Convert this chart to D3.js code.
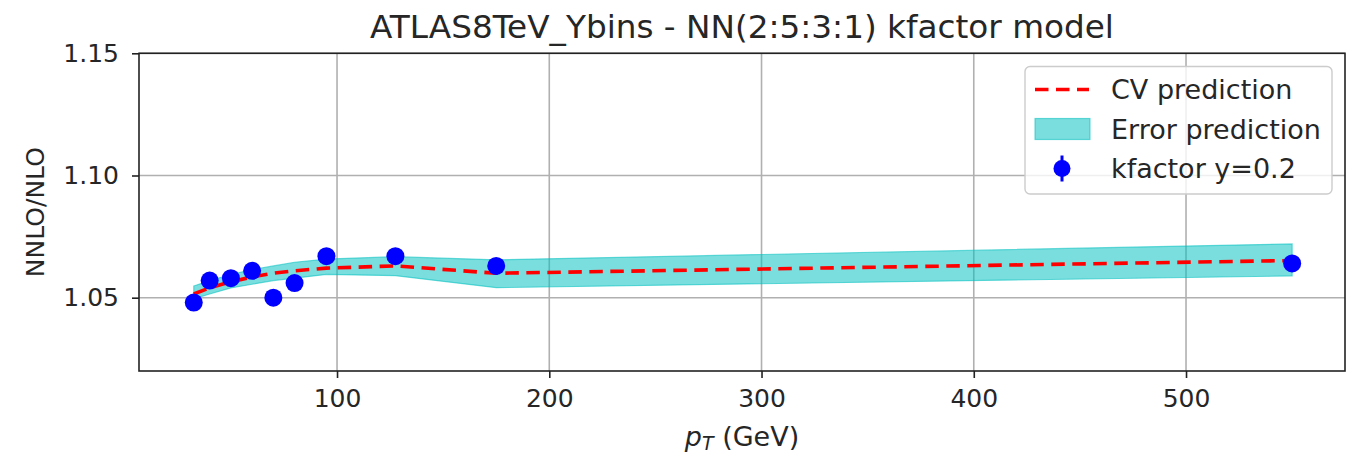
<!DOCTYPE html>
<html>
<head>
<meta charset="utf-8">
<script src="https://cdn.jsdelivr.net/npm/d3@7"></script>
<style>
  html, body { margin: 0; padding: 0; background: #fff; }
  svg { display: block; font-family: "DejaVu Sans", sans-serif; }
</style>
</head>
<body>
<svg id="chart" width="1353" height="456"></svg>
<script>
// pT bin centres (GeV)
const ptBins = [32.5, 40, 50, 60, 70, 80, 95, 127.5, 175, 550];
// measured k-factor NNLO/NLO at y=0.2
const kfactor = [1.048, 1.057, 1.058, 1.061, 1.050, 1.056, 1.067, 1.067, 1.063, 1.064];
// network central-value prediction
const cvPrediction = [1.0515, 1.054, 1.0565, 1.0585, 1.060, 1.061, 1.0621, 1.063, 1.060, 1.0652];
// prediction uncertainty band
const errUpper = [1.0548, 1.057, 1.0595, 1.0615, 1.063, 1.0645, 1.0658, 1.0668, 1.0655, 1.0720];
const errLower = [1.0495, 1.0515, 1.054, 1.0555, 1.057, 1.058, 1.0595, 1.059, 1.0541, 1.0589];

const xTicks = [100, 200, 300, 400, 500];
const yTicks = [1.05, 1.10, 1.15];
const xDomain = [6.7, 574.9];
const yDomain = [1.02, 1.15];

const titleText = "ATLAS8TeV_Ybins - NN(2:5:3:1) kfactor model";
const legendLabels = ["CV prediction", "Error prediction", "kfactor y=0.2"];

const svg = d3.select("#chart");
const plot = { left: 139, right: 1345, top: 53.3, bottom: 371 };

const x = d3.scaleLinear().domain(xDomain).range([plot.left, plot.right]);
const y = d3.scaleLinear().domain(yDomain).range([plot.bottom, plot.top]);

const FONT = 25;
const LEGEND_FONT = 27;
const bandColor = "#00bfbf";

// grid
const grid = svg.append("g").attr("stroke", "#b0b0b0").attr("stroke-width", 1.6);
xTicks.forEach(t => grid.append("line")
  .attr("x1", x(t)).attr("x2", x(t)).attr("y1", plot.top).attr("y2", plot.bottom));
yTicks.forEach(t => grid.append("line")
  .attr("x1", plot.left).attr("x2", plot.right).attr("y1", y(t)).attr("y2", y(t)));

const rows = ptBins.map((p, i) => ({ p, k: kfactor[i], cv: cvPrediction[i], hi: errUpper[i], lo: errLower[i] }));

// uncertainty band
svg.append("path")
  .datum(rows)
  .attr("d", d3.area().x(d => x(d.p)).y0(d => y(d.lo)).y1(d => y(d.hi)))
  .attr("fill", bandColor).attr("fill-opacity", 0.52)
  .attr("stroke", bandColor).attr("stroke-opacity", 0.55).attr("stroke-width", 1.2);

// central prediction
svg.append("path")
  .datum(rows)
  .attr("d", d3.line().x(d => x(d.p)).y(d => y(d.cv)))
  .attr("fill", "none").attr("stroke", "#ff0000").attr("stroke-width", 3.6)
  .attr("stroke-dasharray", "13.5,7.5");

// data points
svg.append("g").selectAll("circle").data(rows).join("circle")
  .attr("cx", d => x(d.p)).attr("cy", d => y(d.k)).attr("r", 9)
  .attr("fill", "#0000ff");

// axes
const xAxis = d3.axisBottom(x).tickValues(xTicks).tickFormat(d3.format("d")).tickSizeOuter(0).tickSize(7).tickPadding(11);
const yAxis = d3.axisLeft(y).tickValues(yTicks).tickFormat(d3.format(".2f")).tickSizeOuter(0).tickSize(7).tickPadding(13);

const gx = svg.append("g").attr("transform", `translate(0,${plot.bottom})`).call(xAxis);
const gy = svg.append("g").attr("transform", `translate(${plot.left},0)`).call(yAxis);
[gx, gy].forEach(g => {
  g.select(".domain").remove();
  g.selectAll(".tick line").attr("stroke", "#222").attr("stroke-width", 1.6);
  g.selectAll(".tick text").attr("fill", "#262626").style("font-size", FONT + "px")
    .style("font-family", "DejaVu Sans");
});

// frame
svg.append("rect")
  .attr("x", plot.left).attr("y", plot.top)
  .attr("width", plot.right - plot.left).attr("height", plot.bottom - plot.top)
  .attr("fill", "none").attr("stroke", "#222").attr("stroke-width", 1.6);

// title
svg.append("text")
  .attr("x", (plot.left + plot.right) / 2).attr("y", 38)
  .attr("text-anchor", "middle").attr("fill", "#262626")
  .style("font-size", "32.7px").text(titleText);

// y label
svg.append("text")
  .attr("transform", `translate(44,${(plot.top + plot.bottom) / 2}) rotate(-90)`)
  .attr("text-anchor", "middle").attr("fill", "#262626")
  .style("font-size", FONT + "px").text("NNLO/NLO");

// x label: p_T (GeV)
const xl = svg.append("text")
  .attr("x", (plot.left + plot.right) / 2).attr("y", 446)
  .attr("text-anchor", "middle").attr("fill", "#262626")
  .style("font-size", "27px");
xl.append("tspan").style("font-style", "italic").text("p");
xl.append("tspan").style("font-style", "italic").style("font-size", "19px").attr("dy", 4).text("T");
xl.append("tspan").attr("dy", -4).text(" (GeV)");

// legend
const lg = svg.append("g");
lg.append("rect")
  .attr("x", 1025).attr("y", 66.5).attr("width", 307).attr("height", 127.5)
  .attr("rx", 5).attr("fill", "#fff").attr("fill-opacity", 0.8)
  .attr("stroke", "#cccccc").attr("stroke-width", 1.4);

const rowY = [89.5, 129, 168.5];
lg.append("line")
  .attr("x1", 1035).attr("x2", 1089).attr("y1", rowY[0]).attr("y2", rowY[0])
  .attr("stroke", "#ff0000").attr("stroke-width", 3.6).attr("stroke-dasharray", "13.5,7.5");
lg.append("rect")
  .attr("x", 1035).attr("y", rowY[1] - 10.5).attr("width", 55).attr("height", 21)
  .attr("fill", bandColor).attr("fill-opacity", 0.52)
  .attr("stroke", bandColor).attr("stroke-opacity", 0.55).attr("stroke-width", 1.2);
lg.append("line")
  .attr("x1", 1062).attr("x2", 1062).attr("y1", rowY[2] - 13).attr("y2", rowY[2] + 13)
  .attr("stroke", "#0000ff").attr("stroke-width", 3);
lg.append("circle").attr("cx", 1062).attr("cy", rowY[2]).attr("r", 8.5).attr("fill", "#0000ff");

legendLabels.forEach((t, i) => lg.append("text")
  .attr("x", 1111).attr("y", rowY[i]).attr("dy", "0.36em")
  .attr("fill", "#262626").style("font-size", LEGEND_FONT + "px").text(t));
</script>
</body>
</html>
